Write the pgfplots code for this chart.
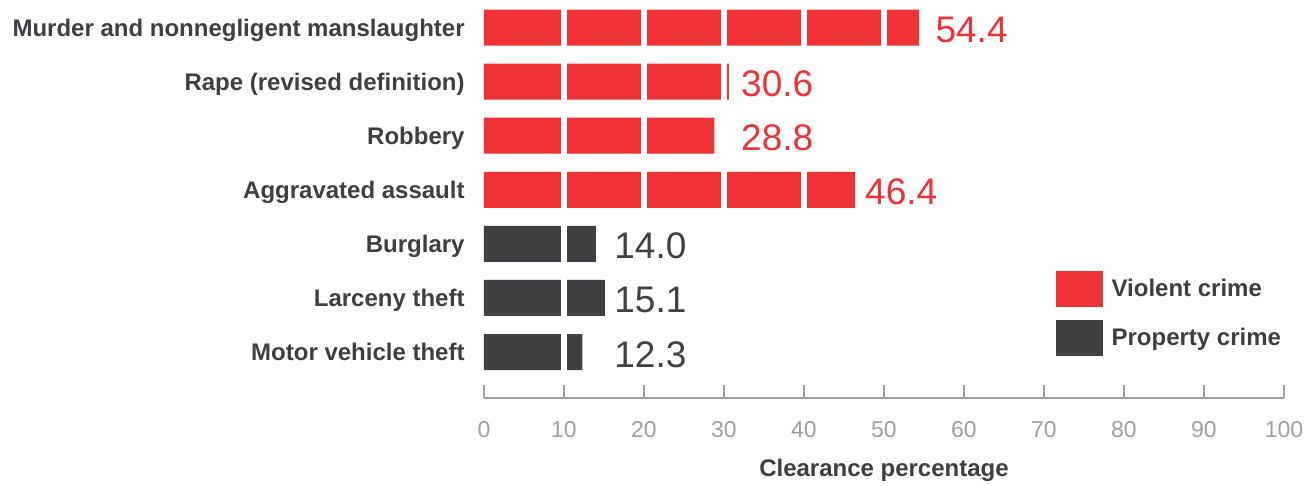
\documentclass[border=0pt]{standalone}
\usepackage{pgfplots}
\pgfplotsset{compat=1.18}
\usepackage{pgfplotstable}
\usepackage{fontspec}
\setmainfont{Liberation Sans}
\definecolor{vred}{HTML}{EE3237}
\definecolor{pgray}{HTML}{414042}
\definecolor{tgray}{HTML}{3F3F41}
\definecolor{lgray}{HTML}{A0A0A2}

\pgfplotstableread{
y val lx lab
0 54.4 56.4 54.4
1 30.6 32.1 30.6
2 28.8 32.1 28.8
3 46.4 47.6 46.4
}\violent
\pgfplotstableread{
y val lx lab
4 14.0 16.25 14.0
5 15.1 16.25 15.1
6 12.3 16.25 12.3
}\property

\begin{document}
\begin{tikzpicture}
\begin{axis}[
  name=ax,
  scale only axis,
  width=400pt, height=198.75pt,
  xmin=0, xmax=100,
  ymin=-0.5, ymax=6.85,
  y dir=reverse,
  axis lines*=left,
  x axis line style={-, lgray, line width=1.3pt},
  y axis line style={draw=none},
  xtick={0,10,...,100},
  xtick align=inside,
  major tick length=6.5pt,
  xtick style={lgray, line width=0.9pt},
  xticklabel style={font=\fontsize{11.5}{13}\selectfont, text=lgray, yshift=-8pt},
  /pgf/number format/assume math mode=true,
  ytick={0,...,6},
  yticklabels={Murder and nonnegligent manslaughter, Rape (revised definition), Robbery, Aggravated assault, Burglary, Larceny theft, Motor vehicle theft},
  ytick style={draw=none},
  yticklabel style={font=\fontsize{12}{14}\selectfont\bfseries, text=tgray, inner sep=0pt, anchor=base east, xshift=-9.5pt, yshift=-4.3pt},
  xlabel={Clearance percentage},
  xlabel style={font=\fontsize{12}{14}\selectfont\bfseries, text=tgray, at={(axis description cs:0.5,0)}, anchor=base, yshift=-39pt},
  legend style={at={(axis cs:71.4,4.5)}, anchor=north west, draw=none, fill=none, inner sep=0pt, row sep=6.5pt,
     font=\fontsize{12}{14}\selectfont\bfseries, text=tgray, nodes={inner sep=0pt}},
  legend cell align=left,
  legend image code/.code={\fill[#1] (0pt,-9pt) rectangle (23.5pt,9pt);},
  unbounded coords=jump,
  clip=false,
]
\addplot[xbar, bar width=0.666, bar shift=0pt, fill=vred, draw=none] table[x=val, y=y] {\violent};
\addlegendentry{\hspace{4.5pt}Violent crime}
\addplot[xbar, bar width=0.666, bar shift=0pt, fill=pgray, draw=none] table[x=val, y=y] {\property};
\addlegendentry{\hspace{4.5pt}Property crime}

% white separators at every 10 (the chart's grid, seen only over the bars)
\addplot[forget plot, white, line width=3pt, mark=none] coordinates {
 (10,-0.5) (10,6.5) (nan,nan)
 (20,-0.5) (20,6.5) (nan,nan)
 (30,-0.5) (30,6.5) (nan,nan)
 (40,-0.5) (40,6.5) (nan,nan)
 (50,-0.5) (50,6.5) (nan,nan)
 (60,-0.5) (60,6.5) (nan,nan)
 (70,-0.5) (70,6.5) (nan,nan)
 (80,-0.5) (80,6.5) (nan,nan)
 (90,-0.5) (90,6.5)
};

\addplot[forget plot, draw=none, mark=none, nodes near coords, point meta=explicit symbolic,
  every node near coord/.style={anchor=base west, inner sep=0pt, yshift=-7.5pt, font=\fontsize{18.5}{20}\selectfont, text=vred}]
  table[x=lx, y=y, meta=lab] {\violent};
\addplot[forget plot, draw=none, mark=none, nodes near coords, point meta=explicit symbolic,
  every node near coord/.style={anchor=base west, inner sep=0pt, yshift=-7.5pt, font=\fontsize{18.5}{20}\selectfont, text=pgray}]
  table[x=lx, y=y, meta=lab] {\property};
\end{axis}
\pgfresetboundingbox
\useasboundingbox ([xshift=-242pt,yshift=0.25pt]ax.north west) rectangle ([xshift=14.5pt,yshift=-44pt]ax.south east);
\end{tikzpicture}
\end{document}
